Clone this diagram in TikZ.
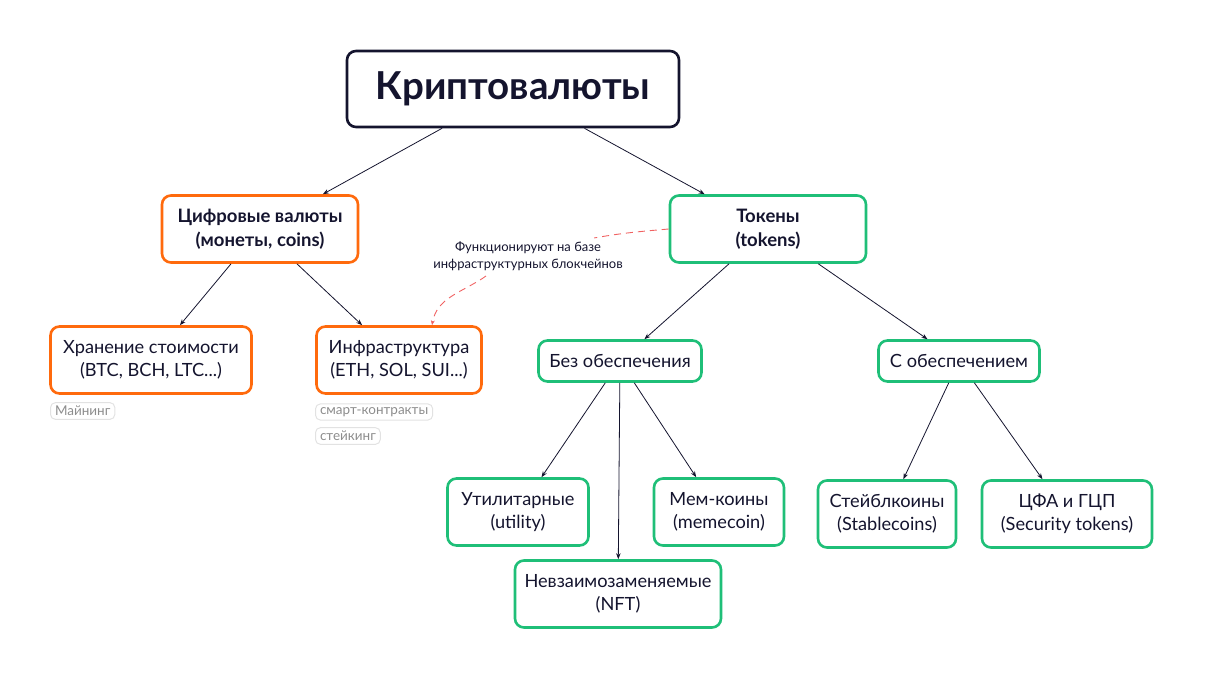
\documentclass[tikz,border=0pt]{standalone}
\usepackage{fontspec}
\setmainfont{Lato}
\usetikzlibrary{calc}
\usetikzlibrary{positioning, arrows.meta}
\definecolor{ink}{HTML}{14142E}
\definecolor{coinorange}{HTML}{FF6A0D}
\definecolor{tokengreen}{HTML}{1FBF78}
\definecolor{notered}{HTML}{F06262}
\definecolor{taggray}{HTML}{8C8C8C}
\definecolor{tagline}{HTML}{E2E2E2}

\begin{document}
\begin{tikzpicture}[x=1pt, y=-1pt,
every node/.style={text=ink, align=center},
rootbox/.style={
  draw=ink, line width=2.6pt, rounded corners=9pt, fill=white,
  minimum width=332pt, minimum height=76pt,
  font=\fontsize{38.5}{42}\selectfont\bfseries
},
coinbox/.style={
  draw=coinorange, line width=2.6pt, rounded corners=9pt, fill=white,
  minimum height=67pt, font=\fontsize{18.2}{23}\selectfont
},
tokenbox/.style={
  draw=tokengreen, line width=2.6pt, rounded corners=9pt, fill=white,
  minimum height=67pt, font=\fontsize{18.2}{23}\selectfont
},
headtext/.style={font=\fontsize{18.5}{24}\selectfont\bfseries},
tagbox/.style={
  draw=tagline, line width=1pt, rounded corners=5pt, anchor=west,
  text=taggray, inner xsep=4.5pt, inner ysep=3.5pt,
  font=\fontsize{13.5}{15}\selectfont
},
link/.style={draw=ink, line width=0.8pt, -{Stealth[length=6pt, width=4.5pt]}},
notelink/.style={draw=notered, line width=0.9pt, dash pattern=on 7pt off 5pt}
]
\useasboundingbox (0,0) rectangle (1205,679);

\node (root) [rootbox] at (513,89) {Криптовалюты};

\node (coins) [coinbox, headtext, minimum width=196pt] at (260,229) {Цифровые валюты\\(монеты, coins)};
\node (tokens) [tokenbox, headtext, minimum width=196pt] at (768,229) {Токены\\(tokens)};

\node (store) [coinbox, minimum width=201pt] at (151,360) {Хранение стоимости\\(BTC, BCH, LTC...)};
\node (infra) [coinbox, minimum width=165pt] at (399,360) {Инфраструктура\\(ETH, SOL, SUI...)};

\node (mining) [tagbox] at (50,411) {Майнинг};
\node (smart) [tagbox] at (315,412) {смарт-контракты};
\node (staking) [tagbox] at (315,436) {стейкинг};

\node (noback) [tokenbox, minimum width=163pt, minimum height=41pt] at (620,361) {Без обеспечения};
\node (back) [tokenbox, minimum width=161pt, minimum height=41pt] at (959,361) {С обеспечением};

\node (utility) [tokenbox, minimum width=141pt] at (518,512) {Утилитарные\\(utility)};
\node (meme) [tokenbox, minimum width=130pt] at (719,512) {Мем-коины\\(memecoin)};
\node (nft) [tokenbox, minimum width=206pt] at (618,594) {Невзаимозаменяемые\\(NFT)};
\node (stable) [tokenbox, minimum width=138pt] at (887,514) {Стейблкоины\\(Stablecoins)};
\node (security) [tokenbox, minimum width=170pt] at (1067,514) {ЦФА и ГЦП\\(Security tokens)};

\node (note) [font=\fontsize{13}{17}\selectfont] at (528,256)
  {Функционируют на базе\\инфраструктурных блокчейнов};

\draw [link] (root) -- (coins);
\draw [link] (root) -- (tokens);
\draw [link] (coins) -- (store);
\draw [link] (coins) -- (infra);
\draw [link] (tokens) -- (noback);
\draw [link] (tokens) -- (back);
\draw [link] (noback) -- (utility);
\draw [link] (noback) -- (nft);
\draw [link] (noback) -- (meme);
\draw [link] (back) -- (stable);
\draw [link] (back) -- (security);

% dashed note between tokens and infrastructure
\draw [notelink] (tokens.west) to[out=185, in=10] ($(note.north east)+(-32,0)$);
\draw [notelink, -{Stealth[length=5pt, width=4pt]}] ($(note.south)+(-42,2)$)
  to[out=215, in=80] ($(infra.north)+(33,0)$);
\end{tikzpicture}
\end{document}
